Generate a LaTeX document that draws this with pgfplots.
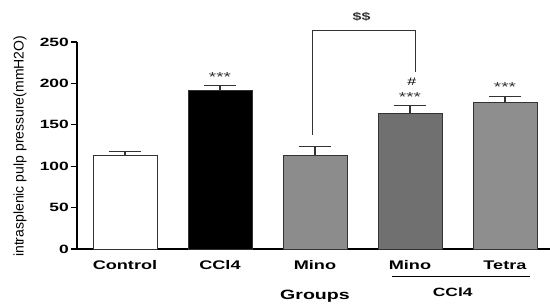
\documentclass[border=0pt]{standalone}
\usepackage{pgfplots}
\pgfplotsset{compat=1.18}
\usepackage{fontspec}
\setmainfont[FakeStretch=1.45]{Liberation Sans}
\newfontfamily\ylabfont{Liberation Sans}
\definecolor{minogray}{HTML}{8C8C8C}
\definecolor{darkgray2}{HTML}{707070}
\definecolor{tetragray}{HTML}{8E8E8E}
\definecolor{edge}{HTML}{333333}
\begin{document}
\begin{tikzpicture}
\useasboundingbox (0,0) rectangle (550pt,304pt);
\begin{axis}[
  at={(77pt,55pt)}, anchor=south west,
  scale only axis, width=473pt, height=207pt,
  xmin=-0.505, xmax=4.474, ymin=0, ymax=250,
  axis x line=bottom, axis y line=left,
  axis line style={-, line width=1.6pt, black},
  ytick={0,50,100,150,200,250},
  xtick={0,1,2,3,4},
  xticklabels={Control,CCl4,Mino,Mino,Tetra},
  major x tick style={draw=none},
  major y tick style={line width=1.2pt, black},
  tick align=outside, major tick length=6pt,
  yticklabel style={font=\fontsize{12}{12}\selectfont\bfseries, anchor=east, inner sep=0pt, xshift=-2pt},
  xticklabel style={font=\fontsize{12.5}{12.5}\selectfont\bfseries, anchor=base, inner sep=0pt, yshift=-15pt},
  /pgf/number format/assume math mode=true,
  ybar, bar width=64pt, bar shift=0pt,
  clip=false,
  error bars/y dir=plus, error bars/y explicit,
  error bars/error bar style={line width=1.1pt, edge},
  error bars/error mark options={line width=1.1pt, edge, mark size=16pt, rotate=90},
]
\addplot[fill=white, draw=edge, line width=0.9pt] coordinates {(0,112.7) +- (0,4.8)};
\addplot[fill=black, draw=edge, line width=0.9pt] coordinates {(1,191) +- (0,6)};
\addplot[fill=minogray, draw=edge, line width=0.9pt] coordinates {(2,113) +- (0,10.6)};
\addplot[fill=darkgray2, draw=edge, line width=0.9pt] coordinates {(3,164) +- (0,9)};
\addplot[fill=tetragray, draw=edge, line width=0.9pt] coordinates {(4,176.7) +- (0,8)};

% annotations
\node[font=\fontsize{13}{13}\selectfont, text=edge] at (axis cs:1,208) {***};
\node[font=\fontsize{13}{13}\selectfont, text=edge] at (axis cs:3,183) {***};
\node[font=\fontsize{13}{13}\selectfont, text=edge] at (axis cs:4,196) {***};
\node[font=\fontsize{11}{11}\selectfont] at (axis cs:3.02,202) {\#};
\draw[line width=0.9pt, edge] (axis cs:1.976,137.7) -- (axis cs:1.976,263.6) -- (axis cs:3.06,263.6) -- (axis cs:3.06,214);
\node[font=\fontsize{11}{11}\selectfont\bfseries, text=edge] at (axis cs:2.49,280) {\$\$};
\draw[line width=1pt, black] (axis cs:2.81,-33.8) -- (axis cs:4.26,-33.8);
\node[font=\fontsize{12}{12}\selectfont\bfseries] at (axis cs:3.45,-52) {CCl4};
\node[font=\fontsize{13.5}{13.5}\selectfont\bfseries] at (axis cs:2.0,-56.5) {Groups};
\node[rotate=90, font=\ylabfont\fontsize{14}{14}\selectfont] at ([xshift=-57pt]axis cs:-0.505,124) {intrasplenic pulp pressure(mmH2O)};
\end{axis}
\end{tikzpicture}
\end{document}
